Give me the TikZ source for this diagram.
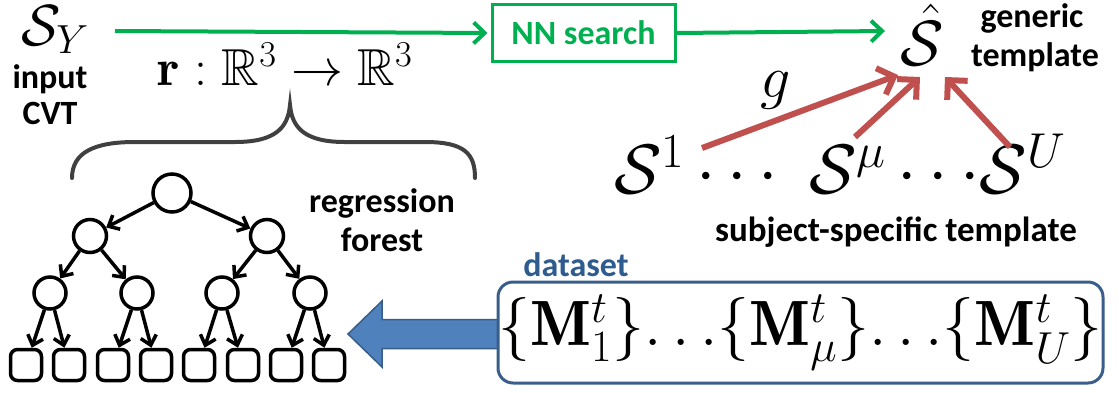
\RequirePackage{fix-cm}
\documentclass[tikz,border=0pt]{standalone}
\usepackage{amssymb}
\DeclareFontFamily{U}{msb}{}
\DeclareFontShape{U}{msb}{m}{n}{<-> msbm10}{}
\usepackage{fontspec}
\newfontfamily\labfont{Carlito}
\usetikzlibrary{arrows.meta}
\definecolor{nngreen}{HTML}{00B050}
\definecolor{gred}{HTML}{C0504D}
\definecolor{dblue}{HTML}{4F81BD}
\definecolor{dborder}{HTML}{385D8A}
\definecolor{dsbox}{HTML}{3A5E8C}
\definecolor{dstext}{HTML}{2F5C8F}
\definecolor{bracegray}{HTML}{404040}
\tikzset{
  lbl/.style={font=\labfont\bfseries\fontsize{34}{36}\selectfont, inner sep=0pt},
  circ/.style={circle, draw, line width=3.5pt, inner sep=0pt},
  leaf/.style={rectangle, draw, line width=3.5pt, rounded corners=7pt, minimum width=31pt, minimum height=31pt, inner sep=0pt},
  tarrow/.style={line width=3.5pt, -{Straight Barb[length=9pt,width=16pt]}},
  garrow/.style={draw=nngreen, line width=4pt, -{Straight Barb[length=11pt,width=21pt]}},
  rarrow/.style={draw=gred, line width=6pt, -{Straight Barb[length=14pt,width=28pt]}},
}
\begin{document}
\begin{tikzpicture}[x=1pt,y=-1pt]
\useasboundingbox (0,0) rectangle (1119,392);
% top row
\node[anchor=base, inner sep=0pt, font=\fontsize{58}{60}\selectfont] (sy) at (55,45) {$\mathcal{S}_Y$};
\node[lbl, anchor=base] (inp) at (50,88) {input};
\node[lbl, anchor=base] (cvt) at (50,124) {CVT};
\node[draw=nngreen, line width=3pt, minimum width=183pt, minimum height=57pt, inner sep=0pt,
      text=nngreen, font=\labfont\bfseries\fontsize{34}{36}\selectfont] (nn) at (583.5,33) {NN search};
\coordinate (gstart) at (115,31);
\coordinate (gend) at (885,31);
\draw[garrow, shorten >=3pt] (gstart) -- (nn.west);
\draw[garrow] (nn.east) -- (gend);
\node[anchor=base, inner sep=0pt, font=\fontsize{64}{66}\selectfont] (shat) at (922,65) {$\hat{\mathcal{S}}$};
\node[lbl, anchor=base] (gen) at (1032,27) {generic};
\node[lbl, anchor=base] (tmp) at (1035,66) {template};
\node[anchor=base, inner sep=0pt, font=\fontsize{52}{54}\selectfont] (map) at (285,85) {$\mathbf{r}:\mathbb{R}^3\to\mathbb{R}^3$};
% brace
\draw[bracegray, line width=4pt, line cap=round]
  (72,178) .. controls (72,152) and (95,142) .. (135,142) -- (235,142)
  .. controls (275,142) and (288,128) .. (290,105)
  .. controls (292,128) and (305,142) .. (345,142) -- (425,142)
  .. controls (465,142) and (475,154) .. (475,178);
% tree
\node[circ, minimum size=38pt] (r) at (172,193) {};
\node[circ, minimum size=33pt] (a) at (90,236) {};
\node[circ, minimum size=33pt] (b) at (267,236) {};
\node[circ, minimum size=32pt] (a1) at (50,293) {};
\node[circ, minimum size=32pt] (a2) at (137,293) {};
\node[circ, minimum size=32pt] (b1) at (222,293) {};
\node[circ, minimum size=32pt] (b2) at (310,293) {};
\foreach \i/\x in {1/26,2/69,3/113,4/156,5/199,6/243,7/286,8/329}
  \node[leaf] (l\i) at (\x,365) {};
\draw[tarrow] (r) -- (a);
\draw[tarrow] (r) -- (b);
\draw[tarrow] (a) -- (a1);
\draw[tarrow] (a) -- (a2);
\draw[tarrow] (b) -- (b1);
\draw[tarrow] (b) -- (b2);
\draw[tarrow] (a1) -- (l1);
\draw[tarrow] (a1) -- (l2);
\draw[tarrow] (a2) -- (l3);
\draw[tarrow] (a2) -- (l4);
\draw[tarrow] (b1) -- (l5);
\draw[tarrow] (b1) -- (l6);
\draw[tarrow] (b2) -- (l7);
\draw[tarrow] (b2) -- (l8);
\node[lbl] (reg) at (382,203) {regression};
\node[lbl] (for) at (382,240) {forest};
% subject-specific templates
\node[anchor=base west, inner sep=0pt, font=\fontsize{70}{72}\selectfont] (srow) at (614,193)
  {$\mathcal{S}^1\cdots\;\mathcal{S}^{\mu}\,{\cdotp\cdotp\cdotp}\mathcal{S}^{U}$};
\node[lbl, font=\labfont\bfseries\fontsize{35}{37}\selectfont] (sst) at (896,232) {subject-specific template};
\node[inner sep=0pt, font=\fontsize{60}{62}\selectfont] (g) at (776,90) {$g$};
\coordinate (p1) at (702,148);
\coordinate (q1) at (898,75);
\coordinate (p2) at (855,137);
\coordinate (q2) at (920,77);
\coordinate (p3) at (1010,147);
\coordinate (q3) at (945,77);
\draw[rarrow] (p1) -- (q1);
\draw[rarrow] (p2) -- (q2);
\draw[rarrow] (p3) -- (q3);
% dataset
\draw[fill=dblue, draw=dborder, line width=1.5pt, line join=miter]
  (348,334) -- (382,301) -- (382,319.5) -- (500,319.5) -- (500,348.5) -- (382,348.5) -- (382,367) -- cycle;
\node[draw=dsbox, fill=white, line width=3pt, rounded corners=15pt, minimum width=605pt, minimum height=101pt, inner sep=0pt,
      font=\fontsize{64}{66}\selectfont] (ds) at (800.5,332.5)
  {$\{\mathbf{M}^t_1\}{\ldotp\ldotp\ldotp}\{\mathbf{M}^t_{\mu}\}{\ldotp\ldotp\ldotp}\{\mathbf{M}^t_U\}$};
\node[lbl, text=dstext] (dsl) at (576,265) {dataset};
\end{tikzpicture}
\end{document}
